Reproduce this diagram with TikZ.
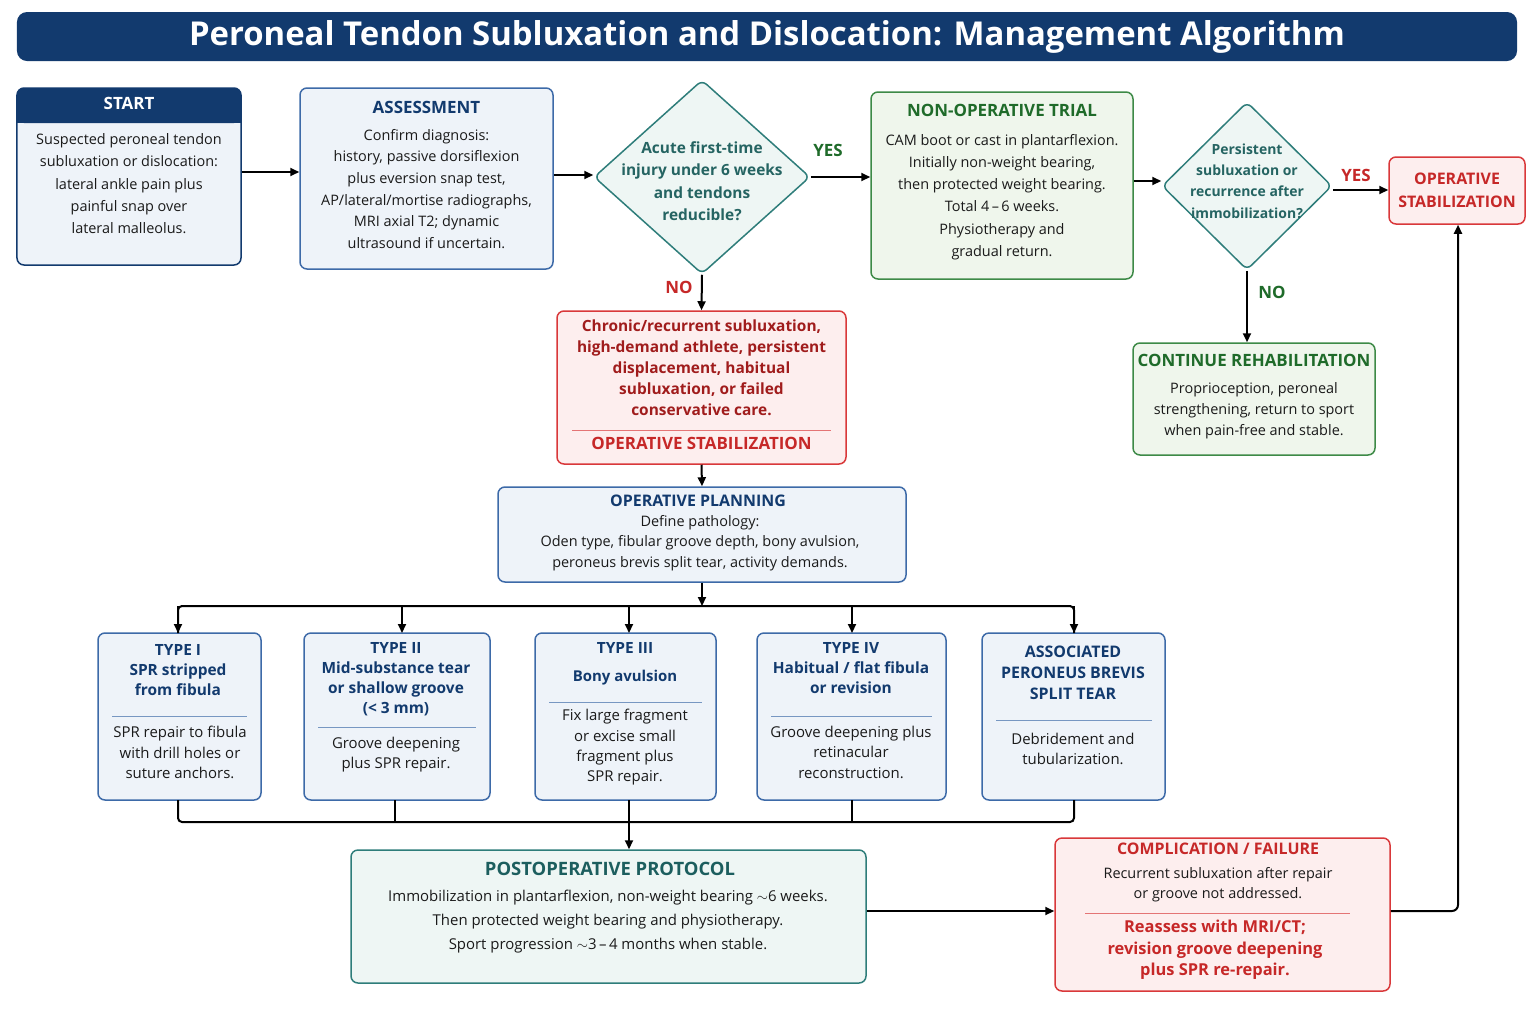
\documentclass[tikz,border=0pt]{standalone}
\usepackage{fontspec}
\setmainfont{Open Sans}
\usetikzlibrary{shapes.geometric,arrows.meta}
\definecolor{navy}{HTML}{123A6E}
\definecolor{bbord}{HTML}{3D6AA8}
\definecolor{bfill}{HTML}{EEF3F9}
\definecolor{gbord}{HTML}{3D8A47}
\definecolor{gfill}{HTML}{EFF6EC}
\definecolor{gtext}{HTML}{1F6B2A}
\definecolor{rbord}{HTML}{D9383A}
\definecolor{rfill}{HTML}{FDEEEE}
\definecolor{rtext}{HTML}{A01C1C}
\definecolor{rhead}{HTML}{C62828}
\definecolor{tbord}{HTML}{2E7D7A}
\definecolor{tfill}{HTML}{EEF6F4}
\definecolor{ttext}{HTML}{1C5E5E}
\definecolor{txt}{HTML}{1A1A1A}
\begin{document}
\begin{tikzpicture}[x=1bp,y=-1bp,
  box/.style={draw,line width=1.5bp,rounded corners=7bp,inner sep=0},
  bl/.style={box,draw=bbord,fill=bfill},
  gr/.style={box,draw=gbord,fill=gfill},
  rd/.style={box,draw=rbord,fill=rfill},
  te/.style={box,draw=tbord,fill=tfill},
  t/.style={align=center,text=txt,font=\fontsize{15}{20.5}\selectfont,inner sep=0,anchor=north},
  h/.style={align=center,font=\bfseries\fontsize{17}{21}\selectfont,inner sep=0,anchor=north},
  hs/.style={align=center,font=\bfseries\fontsize{15.5}{20}\selectfont,inner sep=0,anchor=north,text=navy},
  sep/.style={line width=0.8bp},
  arr/.style={-{Triangle[length=9bp,width=8bp]},line width=2bp,draw=black},
  ln/.style={line width=2bp,draw=black},
  dia/.style={diamond,draw=tbord,fill=tfill,line width=1.5bp,rounded corners=6bp,inner sep=0,aspect=1.1},
  yes/.style={font=\bfseries\fontsize{17}{20}\selectfont,inner sep=0}]
\useasboundingbox (0,0) rectangle (1536,1024);
\fill[white] (0,0) rectangle (1536,1024);
% title
\node[fill=navy,rounded corners=10bp,minimum width=1500bp,minimum height=49bp,inner sep=0,text=white,font=\bfseries\fontsize{33}{36}\selectfont] (title) at (767,36.5) {Peroneal Tendon Subluxation and Dislocation: Management Algorithm};
% START
\node[box,draw=navy,fill=bfill,minimum width=224bp,minimum height=177bp] (start) at (129,176.5) {};
\fill[navy,rounded corners=7bp] (17,88) rectangle (241,123);
\fill[navy] (17,110) rectangle (241,123);
\node[h,text=white] at (129,97) {START};
\node[t,font=\fontsize{14.5}{22.5}\selectfont] at (129,133) {Suspected peroneal tendon\\subluxation or dislocation:\\lateral ankle pain plus\\painful snap over\\lateral malleolus.};
% ASSESSMENT
\node[bl,minimum width=253bp,minimum height=181bp] (assess) at (426.5,178.5) {};
\node[h,text=navy] at (426.5,101) {ASSESSMENT};
\node[t,font=\fontsize{14.5}{21.7}\selectfont] at (426.5,129) {Confirm diagnosis:\\history, passive dorsiflexion\\plus eversion snap test,\\AP/lateral/mortise radiographs,\\MRI axial T2; dynamic\\ultrasound if uncertain.};
% diamond 1
\node[dia,minimum width=216bp,minimum height=194bp,aspect=1.11] (d1) at (702,177) {};
\node[align=center,text=tbord!80!black,font=\fontsize{15.5}{22.5}\selectfont\bfseries] at (702,181) {Acute first-time\\injury under 6 weeks\\and tendons\\reducible?};
% NON-OP
\node[gr,minimum width=262bp,minimum height=187bp] (nonop) at (1002,185.5) {};
\node[h,text=gtext] at (1002,104) {NON-OPERATIVE TRIAL};
\node[t,font=\fontsize{14.5}{22.3}\selectfont] at (1002,134) {CAM boot or cast in plantarflexion.\\Initially non-weight bearing,\\then protected weight bearing.\\Total 4\,--\,6 weeks.\\Physiotherapy and\\gradual return.};
% diamond 2
\node[dia,minimum width=170bp,minimum height=168bp,aspect=1.01] (d2) at (1247,186) {};
\node[align=center,text=tbord!80!black,font=\fontsize{14}{21.5}\selectfont\bfseries] at (1247,181) {Persistent\\subluxation or\\recurrence after\\immobilization?};
% OP STAB
\node[rd,minimum width=136bp,minimum height=67bp] (opstab) at (1457,190.5) {};
\node[align=center,text=rhead,font=\bfseries\fontsize{16}{23}\selectfont] at (1457,190.5) {OPERATIVE\\STABILIZATION};
% CONTINUE REHAB
\node[gr,minimum width=242bp,minimum height=112bp] (rehab) at (1254,399) {};
\node[h,text=gtext] at (1254,354) {CONTINUE REHABILITATION};
\node[t,font=\fontsize{14.5}{21}\selectfont] at (1254,382) {Proprioception, peroneal\\strengthening, return to sport\\when pain-free and stable.};
% Chronic
\node[rd,minimum width=289bp,minimum height=153bp] (chronic) at (701.5,387.5) {};
\node[align=center,inner sep=0,anchor=north,text=rtext,font=\bfseries\fontsize{15.5}{21}\selectfont] at (701.5,320) {Chronic/recurrent subluxation,\\high-demand athlete, persistent\\displacement, habitual\\subluxation, or failed\\conservative care.};
\draw[sep,draw=rbord!70] (572,430) -- (831,430);
\node[h,text=rhead] at (701.5,437) {OPERATIVE STABILIZATION};
% Planning
\node[bl,minimum width=408bp,minimum height=95bp] (plan) at (702,534.5) {};
\node[h,text=navy,font=\bfseries\fontsize{16}{20}\selectfont] at (698,495) {OPERATIVE PLANNING};
\node[t,font=\fontsize{14.5}{20.5}\selectfont] at (700,515) {Define pathology:\\Oden type, fibular groove depth, bony avulsion,\\peroneus brevis split tear, activity demands.};
% type boxes
\node[bl,minimum width=163bp,minimum height=167bp] (t1) at (179.5,716.5) {};
\node[bl,minimum width=186bp,minimum height=167bp] (t2) at (397,716.5) {};
\node[bl,minimum width=181bp,minimum height=167bp] (t3) at (625.5,716.5) {};
\node[bl,minimum width=189bp,minimum height=167bp] (t4) at (851.5,716.5) {};
\node[bl,minimum width=183bp,minimum height=167bp] (t5) at (1073.5,716.5) {};
\node[hs] at (178,644) {TYPE I\\SPR stripped\\from fibula};
\draw[sep,draw=bbord!70] (112,716) -- (247,716);
\node[t] at (180,726) {SPR repair to fibula\\with drill holes or\\suture anchors.};
\node[hs] at (396,642) {TYPE II\\Mid-substance tear\\or shallow groove\\(< 3 mm)};
\draw[sep,draw=bbord!70] (318,727) -- (476,727);
\node[t] at (396,737) {Groove deepening\\plus SPR repair.};
\node[hs] at (625,642) {TYPE III};
\node[hs,font=\bfseries\fontsize{15}{20}\selectfont] at (625,670) {Bony avulsion};
\draw[sep,draw=bbord!70] (549,702) -- (702,702);
\node[t] at (625,709) {Fix large fragment\\or excise small\\fragment plus\\SPR repair.};
\node[hs] at (851,642) {TYPE IV\\Habitual / flat fibula\\or revision};
\draw[sep,draw=bbord!70] (771,716) -- (932,716);
\node[t] at (851,726) {Groove deepening plus\\retinacular\\reconstruction.};
\node[hs,font=\bfseries\fontsize{16}{21}\selectfont] at (1073,646) {ASSOCIATED\\PERONEUS BREVIS\\SPLIT TEAR};
\draw[sep,draw=bbord!70] (996,720) -- (1152,720);
\node[t] at (1073,733) {Debridement and\\tubularization.};
% postop
\node[te,minimum width=515bp,minimum height=133bp] (postop) at (608.5,916.5) {};
\node[h,text=ttext,font=\bfseries\fontsize{18.5}{22}\selectfont] at (610,862) {POSTOPERATIVE PROTOCOL};
\node[t,font=\fontsize{15}{24}\selectfont] at (608,890) {Immobilization in plantarflexion, non-weight bearing $\sim$6 weeks.\\Then protected weight bearing and physiotherapy.\\Sport progression $\sim$3\,--\,4 months when stable.};
% complication
\node[rd,minimum width=335bp,minimum height=153bp] (comp) at (1222.5,914.5) {};
\node[h,text=rhead,font=\bfseries\fontsize{16}{20}\selectfont] at (1218,843) {COMPLICATION / FAILURE};
\node[t,font=\fontsize{14.5}{20.5}\selectfont] at (1218,867) {Recurrent subluxation after repair\\or groove not addressed.};
\draw[sep,draw=rbord!70] (1085,913) -- (1350,913);
\node[align=center,inner sep=0,anchor=north,text=rhead,font=\bfseries\fontsize{16.5}{21.5}\selectfont] at (1215,920) {Reassess with MRI/CT;\\revision groove deepening\\plus SPR re-repair.};
% connectors
\draw[arr] (start.east |- 0,172) -- (assess.west |- 0,172);
\draw[arr] (assess.east |- 0,175) -- (d1.west |- 0,175);
\draw[arr] (d1.east) -- (nonop.west |- d1.east);
\node[yes,text=gtext] at (828,150) {YES};
\draw[arr] (nonop.east |- 0,181) -- (d2.west |- 0,181);
\draw[arr] (d2.east |- 0,190) -- (opstab.west |- 0,190);
\node[yes,text=rhead] at (1356,175) {YES};
\draw[arr] (d1.south) -- (chronic.north);
\node[yes,text=rhead] at (679,287) {NO};
\draw[arr] (d2.south) -- (d2.south |- rehab.north);
\node[yes,text=gtext] at (1272,292) {NO};
\draw[arr] (chronic.south) -- (plan.north);
\coordinate (bus) at (702,606);
\draw[arr] (plan.south) -- (bus);
\draw[ln,rounded corners=4bp] (178,633) -- (178,606) -- (1074,606) -- (1074,633);
\foreach \n/\xx in {t1/178,t2/402,t3/629,t4/852,t5/1074}
  \draw[arr] (\xx,606) -- (\xx,633) coordinate (\n top);
\draw[ln,rounded corners=4bp] (178,800) -- (178,822) -- (1074,822) -- (1074,800);
\draw[ln] (395,800) -- (395,822) (629,800) -- (629,822) (852,800) -- (852,822);
\coordinate (bus2) at (629,822);
\draw[arr] (bus2) -- (bus2 |- postop.north);
\draw[arr] (postop.east |- 0,911) -- (comp.west |- 0,911);
\draw[arr,rounded corners=6bp] (comp.east |- 0,911) -- (1458,911) -- (opstab.south -| 1458,0);
\end{tikzpicture}
\end{document}
